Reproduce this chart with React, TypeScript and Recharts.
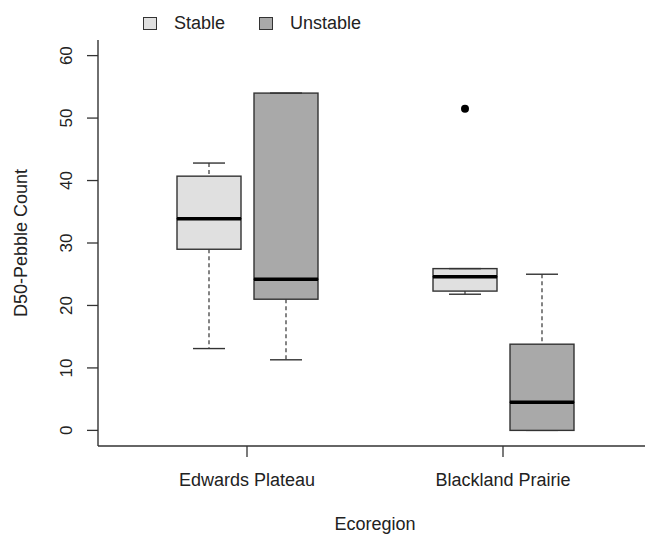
import { ComposedChart, Bar, XAxis, YAxis } from 'recharts';

const categories = ['Edwards Plateau', 'Blackland Prairie'];

// five-number summaries
const stableMin = [13.1, 21.8];
const stableQ1 = [29.0, 22.3];
const stableMedian = [33.9, 24.6];
const stableQ3 = [40.7, 25.9];
const stableMax = [42.8, 25.9];
const stableOutlier = [null, 51.5];

const unstableMin = [11.3, 0];
const unstableQ1 = [21.0, 0];
const unstableMedian = [24.2, 4.5];
const unstableQ3 = [54.0, 13.8];
const unstableMax = [54.0, 25.0];
const unstableOutlier = [null, null];

const yTicks = [0, 10, 20, 30, 40, 50, 60];
const legendLabels = ['Stable', 'Unstable'];
const seriesColors = ['#e0e0e0', '#a9a9a9'];

const FONT = '"Liberation Sans", Arial, sans-serif';
const INK = '#333';

function segments(min: number[], q1: number[], med: number[], q3: number[], max: number[], out: (number | null)[], i: number) {
  return {
    base: min[i],
    lw: q1[i] - min[i],
    lb: med[i] - q1[i],
    ub: q3[i] - med[i],
    uw: max[i] - q3[i],
    out: out[i] != null ? (out[i] as number) - max[i] : 0,
  };
}

const data = categories.map((name, i) => {
  const s = segments(stableMin, stableQ1, stableMedian, stableQ3, stableMax, stableOutlier, i);
  const u = segments(unstableMin, unstableQ1, unstableMedian, unstableQ3, unstableMax, unstableOutlier, i);
  return {
    name,
    s_base: s.base, s_lw: s.lw, s_lb: s.lb, s_ub: s.ub, s_uw: s.uw, s_out: s.out,
    u_base: u.base, u_lw: u.lw, u_lb: u.lb, u_ub: u.ub, u_uw: u.uw, u_out: u.out,
  };
});

const Empty = () => <g />;

const LowerWhisker = (p: any) => {
  const cx = p.x + p.width / 2;
  const bottom = p.y + p.height;
  return (
    <g>
      <line x1={cx} x2={cx} y1={p.y} y2={bottom} stroke={INK} strokeWidth={1.2} strokeDasharray="4 3" />
      <line x1={cx - p.width / 4} x2={cx + p.width / 4} y1={bottom} y2={bottom} stroke={INK} strokeWidth={1.4} />
    </g>
  );
};

const UpperWhisker = (p: any) => {
  const cx = p.x + p.width / 2;
  return (
    <g>
      <line x1={cx} x2={cx} y1={p.y} y2={p.y + p.height} stroke={INK} strokeWidth={1.2} strokeDasharray="4 3" />
      <line x1={cx - p.width / 4} x2={cx + p.width / 4} y1={p.y} y2={p.y} stroke={INK} strokeWidth={1.4} />
    </g>
  );
};

// upper half of the box; its bottom edge is the median
const makeBox = (fill: string, withMedian: boolean) => (p: any) => (
  <g>
    <rect x={p.x} y={p.y} width={p.width} height={p.height} fill={fill} stroke={INK} strokeWidth={1.4} />
    {withMedian && (
      <line x1={p.x} x2={p.x + p.width} y1={p.y + p.height} y2={p.y + p.height} stroke="#000" strokeWidth={3.5} />
    )}
  </g>
);

const OutlierDot = (p: any) => {
  if (!p.height || p.height < 0.5) return <g />;
  return <circle cx={p.x + p.width / 2} cy={p.y} r={4} fill="#000" />;
};

const YTick = ({ x, y, payload }: any) => (
  <text
    x={x}
    y={y}
    transform={`rotate(-90 ${x} ${y})`}
    textAnchor="middle"
    fontSize={17}
    fontFamily={FONT}
    fill="#222"
  >
    {payload.value}
  </text>
);

const XTick = ({ x, y, payload }: any) => (
  <text x={x} y={y} dy="0.71em" textAnchor="middle" fontSize={18} fontFamily={FONT} fill="#222">
    {payload.value}
  </text>
);

const YTitle = ({ viewBox }: any) => {
  const cy = viewBox.y + viewBox.height / 2;
  return (
    <text x={27} y={cy} transform={`rotate(-90 27 ${cy})`} textAnchor="middle" fontSize={18} fontFamily={FONT} fill="#222">
      D50-Pebble Count
    </text>
  );
};

const XTitle = ({ viewBox }: any) => (
  <text x={375} y={viewBox.y + 84} textAnchor="middle" fontSize={18} fontFamily={FONT} fill="#222">
    Ecoregion
  </text>
);

const LegendBox = () => (
  <div
    style={{
      position: 'absolute',
      top: 13,
      left: 143,
      display: 'flex',
      alignItems: 'center',
      fontFamily: FONT,
      fontSize: 18,
      color: '#222',
    }}
  >
    {legendLabels.map((l, i) => (
      <div key={l} style={{ display: 'flex', alignItems: 'center', marginRight: i === 0 ? 34 : 0 }}>
        <span
          style={{
            display: 'inline-block',
            width: 12,
            height: 11,
            background: seriesColors[i],
            border: `1.4px solid ${INK}`,
            marginRight: 17,
          }}
        />
        <span>{l}</span>
      </div>
    ))}
  </div>
);

export default function App() {
  return (
    <div style={{ position: 'fixed', left: 0, top: 0, width: 645, height: 535, overflow: 'hidden', background: '#fff' }}>
      <ComposedChart
        width={660}
        height={535}
        data={data}
        margin={{ top: 40, right: 8, left: 0, bottom: 29 }}
        barSize={64}
        barGap={13}
      >
        <XAxis
          dataKey="name"
          type="category"
          height={60}
          padding={{ left: 21, right: 21 }}
          axisLine={{ stroke: INK, strokeWidth: 1.4 }}
          tickSize={11}
          tickMargin={16}
          tickLine={{ stroke: INK, strokeWidth: 1.3 }}
          tick={<XTick />}
          label={<XTitle />}
        />
        <XAxis
          xAxisId="top"
          dataKey="name"
          type="category"
          orientation="top"
          height={0}
          axisLine={{ stroke: INK, strokeWidth: 1.4 }}
          tickLine={false}
          tick={false}
        />
        <YAxis
          type="number"
          width={98}
          domain={[-2.5, 62.5]}
          ticks={yTicks}
          allowDataOverflow
          axisLine={{ stroke: INK, strokeWidth: 1.4 }}
          tickSize={11}
          tickMargin={15}
          tickLine={{ stroke: INK, strokeWidth: 1.3 }}
          tick={<YTick />}
          label={<YTitle />}
        />

        <Bar dataKey="s_base" stackId="s" shape={<Empty />} isAnimationActive={false} />
        <Bar dataKey="s_lw" stackId="s" shape={<LowerWhisker />} isAnimationActive={false} />
        <Bar dataKey="s_lb" stackId="s" shape={makeBox(seriesColors[0], false)} isAnimationActive={false} />
        <Bar dataKey="s_ub" stackId="s" shape={makeBox(seriesColors[0], true)} isAnimationActive={false} />
        <Bar dataKey="s_uw" stackId="s" shape={<UpperWhisker />} isAnimationActive={false} />
        <Bar dataKey="s_out" stackId="s" shape={<OutlierDot />} isAnimationActive={false} />

        <Bar dataKey="u_base" stackId="u" shape={<Empty />} isAnimationActive={false} />
        <Bar dataKey="u_lw" stackId="u" shape={<LowerWhisker />} isAnimationActive={false} />
        <Bar dataKey="u_lb" stackId="u" shape={makeBox(seriesColors[1], false)} isAnimationActive={false} />
        <Bar dataKey="u_ub" stackId="u" shape={makeBox(seriesColors[1], true)} isAnimationActive={false} />
        <Bar dataKey="u_uw" stackId="u" shape={<UpperWhisker />} isAnimationActive={false} />
        <Bar dataKey="u_out" stackId="u" shape={<OutlierDot />} isAnimationActive={false} />
      </ComposedChart>
      <LegendBox />
    </div>
  );
}
